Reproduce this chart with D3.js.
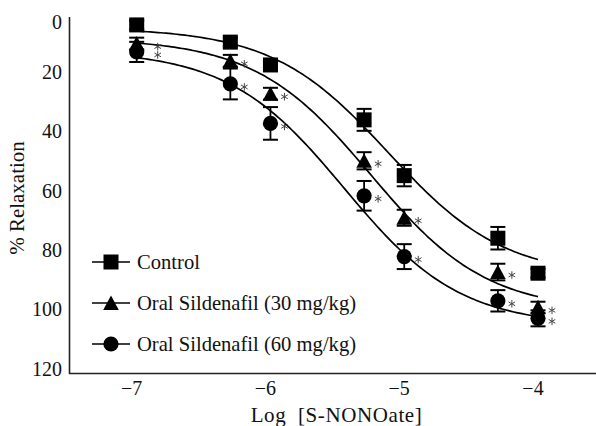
<!DOCTYPE html>
<html>
<head>
<meta charset="utf-8">
<script src="https://cdn.jsdelivr.net/npm/d3@7"></script>
<style>
  html, body { margin: 0; padding: 0; background: #fff; }
  svg { display: block; }
  text { font-family: "Liberation Serif", "DejaVu Serif", serif; fill: #111; }
</style>
</head>
<body>
<svg id="chart" width="596" height="426"></svg>
<script>
// ---------------- data ----------------
const logConc = [-7, -6.3, -6, -5.3, -5, -4.3, -4];
const seriesNames = ["Control", "Oral Sildenafil (30 mg/kg)", "Oral Sildenafil (60 mg/kg)"];
const seriesSymbols = ["square", "triangle", "circle"];
const controlMean = [2.5, 8.3, 16.0, 34.5, 53.3, 74.4, 86.2];
const controlSEM  = [1.5, 1.5, 1.5, 3.7, 3.6, 3.8, 1.5];
const sil30Mean   = [8.8, 14.6, 25.7, 48.3, 67.5, 85.8, 97.7];
const sil30SEM    = [2.0, 2.0, 2.0, 2.9, 2.7, 2.8, 1.9];
const sil60Mean   = [11.6, 22.4, 35.7, 60.1, 80.6, 95.5, 101.4];
const sil60SEM    = [3.4, 5.2, 5.5, 5.0, 4.2, 3.6, 2.7];
const significant = [false, true, true];           // asterisk markers per series
// fitted sigmoidal (Hill) curve parameters per series
const fitBottom  = [3.5, 7, 11];
const fitTop     = [87.5, 99, 104];
const fitLogEC50 = [-5.12, -5.25, -5.45];
const fitHill    = [1, 1, 1];
const xTicks = [-7, -6, -5, -4];
const yTicks = [0, 20, 40, 60, 80, 100, 120];
const xTitle = "Log  [S-NONOate]";
const yTitle = "% Relaxation";

const means = [controlMean, sil30Mean, sil60Mean];
const sems  = [controlSEM, sil30SEM, sil60SEM];

// ---------------- layout ----------------
const svg = d3.select("#chart");
const x = d3.scaleLinear().domain([-7, -4]).range([136.7, 538]);
const y = d3.scaleLinear().domain([0, 120]).range([17.5, 373.5]);
const axisColor = "#222";
const fontSize = 20;

// axes lines
svg.append("line").attr("x1", 69.5).attr("x2", 69.5).attr("y1", 17).attr("y2", 374)
  .attr("stroke", axisColor).attr("stroke-width", 1.6);
svg.append("line").attr("x1", 69).attr("x2", 596).attr("y1", 373.5).attr("y2", 373.5)
  .attr("stroke", axisColor).attr("stroke-width", 1.6);

// y tick labels
svg.append("g").selectAll("text").data(yTicks).join("text")
  .attr("x", 62)
  .attr("y", d => d === 0 ? 22 : y(d) - 5)
  .attr("text-anchor", "end")
  .attr("dominant-baseline", "central")
  .attr("font-size", fontSize)
  .text(d => d);

// x tick labels
svg.append("g").selectAll("text").data(xTicks).join("text")
  .attr("x", d => x(d) - 5)
  .attr("y", 388)
  .attr("text-anchor", "middle")
  .attr("dominant-baseline", "central")
  .attr("font-size", fontSize)
  .text(d => "\u2212" + Math.abs(d));

// axis titles
svg.append("text").attr("x", 336.5).attr("y", 415)
  .attr("text-anchor", "middle").attr("dominant-baseline", "central")
  .attr("font-size", 21).attr("letter-spacing", 0.6)
  .style("white-space", "pre")
  .text(xTitle);
svg.append("text")
  .attr("transform", "translate(17,198) rotate(-90)")
  .attr("text-anchor", "middle").attr("dominant-baseline", "central")
  .attr("font-size", 21)
  .text(yTitle);

// ---------------- marker helper ----------------
function drawMarker(g, type, cx, cy) {
  if (type === "square") {
    g.append("rect").attr("x", cx - 7.5).attr("y", cy - 7.5)
      .attr("width", 15).attr("height", 15).attr("fill", "#000");
  } else if (type === "triangle") {
    g.append("path")
      .attr("d", `M${cx},${cy - 7.5}L${cx + 7.8},${cy + 7}L${cx - 7.8},${cy + 7}Z`)
      .attr("fill", "#000");
  } else {
    g.append("circle").attr("cx", cx).attr("cy", cy).attr("r", 7.6).attr("fill", "#000");
  }
}

// ---------------- fitted curves ----------------
const curveXs = d3.range(-7, -4 + 1e-9, 0.02);
const line = d3.line().x(d => x(d[0])).y(d => y(d[1])).curve(d3.curveLinear);
seriesNames.forEach((name, i) => {
  const pts = curveXs.map(lx => [lx,
    fitBottom[i] + (fitTop[i] - fitBottom[i]) / (1 + Math.pow(10, (fitLogEC50[i] - lx) * fitHill[i]))]);
  svg.append("path").attr("d", line(pts))
    .attr("fill", "none").attr("stroke", "#000").attr("stroke-width", 1.7);
});

// ---------------- error bars + markers ----------------
seriesNames.forEach((name, i) => {
  const g = svg.append("g");
  logConc.forEach((lx, j) => {
    const m = means[i][j], e = sems[i][j];
    const cx = x(lx);
    g.append("line").attr("x1", cx).attr("x2", cx).attr("y1", y(m - e)).attr("y2", y(m + e))
      .attr("stroke", "#000").attr("stroke-width", 1.8);
    [m - e, m + e].forEach(v => {
      g.append("line").attr("x1", cx - 7.5).attr("x2", cx + 7.5).attr("y1", y(v)).attr("y2", y(v))
        .attr("stroke", "#000").attr("stroke-width", 2);
    });
  });
});
seriesNames.forEach((name, i) => {
  const g = svg.append("g");
  logConc.forEach((lx, j) => drawMarker(g, seriesSymbols[i], x(lx), y(means[i][j])));
});

// ---------------- significance asterisks ----------------
const star = d3.symbol().type(d3.symbolAsterisk).size(40);
seriesNames.forEach((name, i) => {
  if (!significant[i]) return;
  svg.append("g").selectAll("path").data(logConc).join("path")
    .attr("d", star)
    .attr("transform", (lx, j) => `translate(${x(lx) + (j === 0 ? 21 : 14)},${y(means[i][j]) + 3})`)
    .attr("fill", "none").attr("stroke", "#444").attr("stroke-width", 1);
});

// ---------------- legend ----------------
const legendRows = [262, 303, 344];
seriesNames.forEach((name, i) => {
  const g = svg.append("g");
  const ly = legendRows[i];
  g.append("line").attr("x1", 92).attr("x2", 130).attr("y1", ly).attr("y2", ly)
    .attr("stroke", "#000").attr("stroke-width", 1.7);
  drawMarker(g, seriesSymbols[i], 111, ly);
  g.append("text").attr("x", 137).attr("y", ly)
    .attr("dominant-baseline", "central")
    .attr("font-size", 20.6)
    .text(name);
});
</script>
</body>
</html>
